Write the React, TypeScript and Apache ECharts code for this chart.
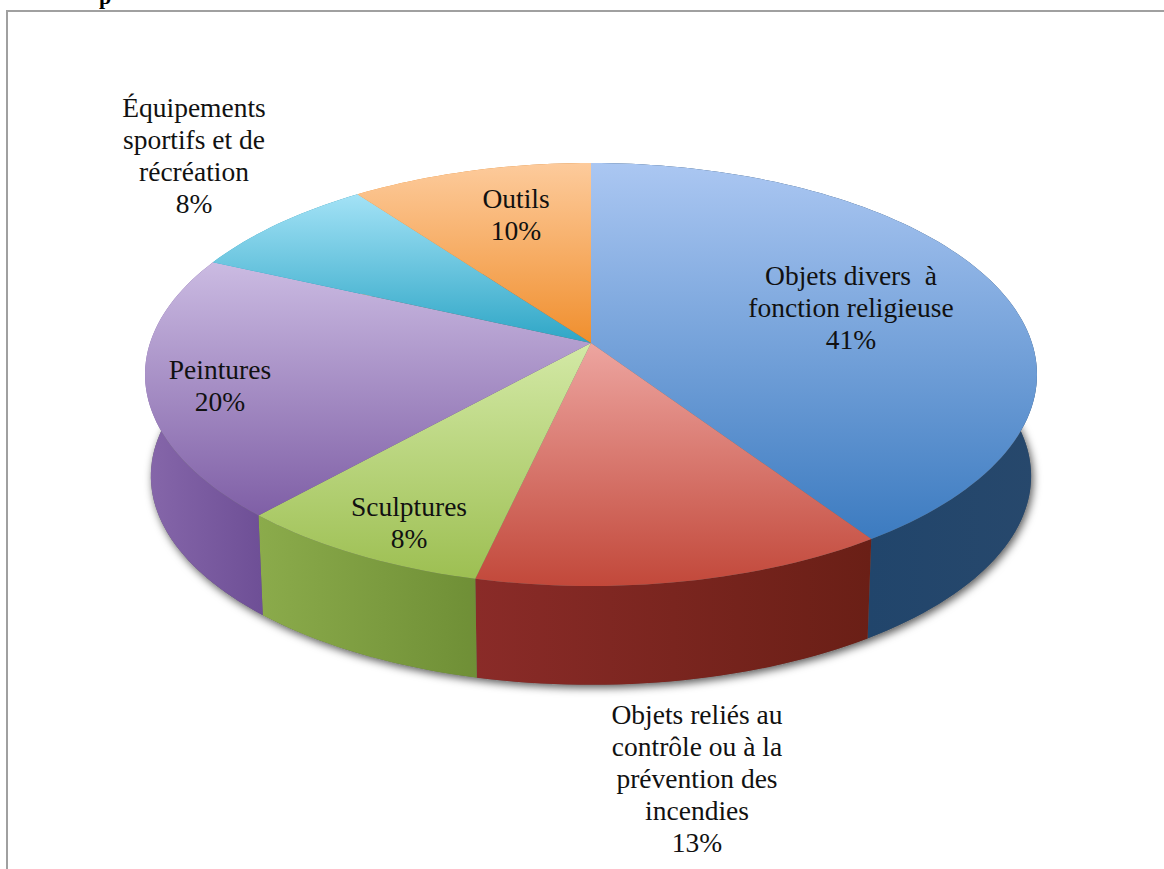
import React, { useEffect, useRef } from "react";
import * as echarts from "echarts";

const categories = [
  "Objets divers à fonction religieuse",
  "Objets reliés au contrôle ou à la prévention des incendies",
  "Sculptures",
  "Peintures",
  "Équipements sportifs et de récréation",
  "Outils",
];
const shares = [40.6, 13.0, 8.1, 20.1, 8.1, 10.1];
const percentLabels = ["41%", "13%", "8%", "20%", "8%", "10%"];
const labelLines = [
  ["Objets divers  à", "fonction religieuse"],
  ["Objets reliés au", "contrôle ou à la", "prévention des", "incendies"],
  ["Sculptures"],
  ["Peintures"],
  ["Équipements", "sportifs et de", "récréation"],
  ["Outils"],
];
const labelCentres = [
  [851, 307],
  [697, 778],
  [409, 522],
  [220, 385],
  [194, 155],
  [516, 214],
];
const topColours = [
  ["#abc7f2", "#3c7bc0"],
  ["#eda5a0", "#c2483a"],
  ["#d3e9a6", "#9dbf52"],
  ["#cbbbe2", "#7f5fa6"],
  ["#a3e2f6", "#2ea6c6"],
  ["#fdcb9c", "#f08f2e"],
];
const wallColours = [
  ["#17406a", "#27486c"],
  ["#8a2b28", "#6a1f16"],
  ["#8bab4b", "#6f8f36"],
  ["#8667aa", "#6e4f96"],
  ["#2ea6c6", "#1f8aa6"],
  ["#f08f2e", "#c87018"],
];

const CX = 591;
const CY = 343;
const RX = 441;
const RY = 206.8;
const K = 0.149;
const DROP = 102;
const SHRINK = 0.987;

const total = shares.reduce((a, b) => a + b, 0);
const project = (theta: number): [number, number] => {
  const u = Math.sin(theta);
  const v = -Math.cos(theta);
  const s = 1 / (1 - K * v);
  return [CX + RX * u * s, CY + RY * v * s];
};
const lower = (p: [number, number]): [number, number] => [
  CX + (p[0] - CX) * SHRINK,
  CY + (p[1] - CY) * SHRINK + DROP,
];
const angleAt = (share: number) => (share / total) * Math.PI * 2;
const startOf = (i: number) => angleAt(shares.slice(0, i).reduce((a, b) => a + b, 0));
const arcPoints = (a: number, b: number) => {
  const n = Math.max(8, Math.ceil(((b - a) / (Math.PI * 2)) * 240));
  const pts: [number, number][] = [];
  for (let i = 0; i <= n; i++) pts.push(project(a + ((b - a) * i) / n));
  return pts;
};
const vGrad = (c: string[]) => new echarts.graphic.LinearGradient(0, 0, 0, 1, [
  { offset: 0, color: c[0] },
  { offset: 1, color: c[1] },
]);
const hGrad = (c: string[]) => new echarts.graphic.LinearGradient(0, 0, 1, 0, [
  { offset: 0, color: c[0] },
  { offset: 1, color: c[1] },
]);

export default function App() {
  const ref = useRef<HTMLDivElement>(null);
  useEffect(() => {
    document.body.style.margin = "0";
    const chart = echarts.init(ref.current!, undefined, { renderer: "svg" });
    const dataset = shares.map((s, i) => ({ name: categories[i], value: s }));
    chart.setOption({
      animation: false,
      backgroundColor: "#ffffff",
      graphic: [
        { type: "line", shape: { x1: 7, y1: 11, x2: 1164, y2: 11 }, style: { stroke: "#a0a0a0", lineWidth: 2 } },
        { type: "line", shape: { x1: 7, y1: 10, x2: 7, y2: 869 }, style: { stroke: "#a0a0a0", lineWidth: 2 } },
        { type: "text", x: 105, y: -15, style: { text: "p", font: "bold 22px 'Liberation Serif'", fill: "#000", align: "center" } },
      ],
      series: [
        {
          type: "custom",
          coordinateSystem: "none",
          z: 2,
          silent: true,
          data: [1],
          renderItem: () => {
            const rim = arcPoints(0, Math.PI * 2).map(lower);
            return {
              type: "polygon",
              shape: { points: rim },
              style: { fill: "#666", shadowBlur: 9, shadowColor: "rgba(0,0,0,0.65)", shadowOffsetX: 2, shadowOffsetY: 3 },
            };
          },
        },
        {
          type: "custom",
          coordinateSystem: "none",
          z: 3,
          silent: true,
          data: dataset,
          renderItem: (params: any, api: any) => {
            const i = params.dataIndex;
            const a = startOf(i);
            const b = a + angleAt(api.value(0));
            const top = arcPoints(a, b);
            const bottom = top.map(lower).reverse();
            return {
              type: "polygon",
              shape: { points: [...top, ...bottom] },
              style: { fill: hGrad(wallColours[i]) },
            };
          },
        },
        {
          type: "custom",
          coordinateSystem: "none",
          z: 4,
          silent: true,
          data: dataset,
          renderItem: (params: any, api: any) => {
            const i = params.dataIndex;
            const a = startOf(i);
            const b = a + angleAt(api.value(0));
            return {
              type: "polygon",
              shape: { points: [[CX, CY], ...arcPoints(a, b)] },
              style: { fill: vGrad(topColours[i]) },
            };
          },
        },
        {
          type: "custom",
          coordinateSystem: "none",
          z: 5,
          silent: true,
          data: dataset,
          renderItem: (params: any) => {
            const i = params.dataIndex;
            return {
              type: "text",
              x: labelCentres[i][0],
              y: labelCentres[i][1],
              style: {
                text: [...labelLines[i], percentLabels[i]].join("\n"),
                font: "27.5px 'Liberation Serif'",
                lineHeight: 32,
                fill: "#111111",
                align: "center",
                verticalAlign: "middle",
              },
            };
          },
        },
      ],
    });
    return () => chart.dispose();
  }, []);
  return <div ref={ref} style={{ position: "absolute", left: 0, top: 0, width: 1164, height: 869 }} />;
}
